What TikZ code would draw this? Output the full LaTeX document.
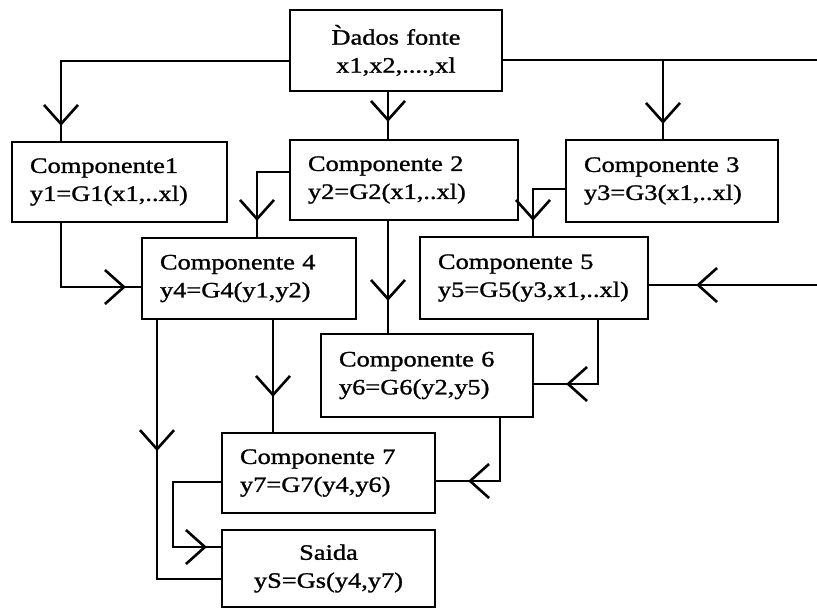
\documentclass[tikz,border=0pt]{standalone}
\usepackage{fontspec}
\setmainfont{Liberation Serif}[FakeStretch=1.2, FakeBold=1.2]
\usetikzlibrary{arrows.meta,decorations.markings}

\tikzset{
  box/.style={draw, line width=2.2pt, inner xsep=18pt, inner ysep=0pt,
    align=left, font=\fontsize{22}{28}\selectfont},
  conn/.style={line width=2.2pt},
  midtip/.style={postaction={decorate}, decoration={markings,
    mark=at position #1 with {\arrow[line width=2.6pt]{Straight Barb[length=19pt,width=34pt]}}}}
}

\begin{document}
\begin{tikzpicture}[x=1pt, y=-1pt]
\useasboundingbox (0,0) rectangle (817,610);

% component boxes
\node[box, align=center, text width=176pt, minimum height=81pt] (dados) at (396,50.5)
  {D̀ados fonte\\x1,x2,....,xl};
\node[box, text width=179pt, minimum height=80pt] (c1) at (119.5,182)
  {Componente1\\y1=G1(x1,..xl)};
\node[box, text width=192pt, minimum height=80pt] (c2) at (404,180)
  {Componente 2\\y2=G2(x1,..xl)};
\node[box, text width=176pt, minimum height=82pt] (c3) at (672,181)
  {Componente 3\\y3=G3(x1,..xl)};
\node[box, text width=178pt, minimum height=81pt] (c4) at (249,278.5)
  {Componente 4\\y4=G4(y1,y2)};
\node[box, text width=192pt, minimum height=82pt] (c5) at (534,278)
  {Componente 5\\y5=G5(y3,x1,..xl)};
\node[box, text width=176pt, minimum height=83pt] (c6) at (427,375.5)
  {Componente 6\\y6=G6(y2,y5)};
\node[box, text width=177pt, minimum height=80pt] (c7) at (328.5,473)
  {Componente 7\\y7=G7(y4,y6)};
\node[box, align=center, text width=177pt, minimum height=77pt] (saida) at (328.5,568.5)
  {Saida\\yS=Gs(y4,y7)};

% junction on the source bus
\coordinate (j3) at (663,60);

% connectors
\draw[conn, midtip=-15pt] (dados.west |- 0,61) -- (61,61) -- (61,0 |- c1.north);
\draw[conn, midtip=-17pt] (388,0 |- dados.south) -- (388,0 |- c2.north);
\draw[conn, midtip=-47pt] (dados.east |- 0,60) -- (821,60) -- (821,285) -- (c5.east |- 0,285);
\draw[conn, midtip=-15pt] (j3) -- (663,0 |- c3.north);
\draw[conn, midtip=-15pt] (61,0 |- c1.south) -- (61,287) -- (c4.west |- 0,287);
\draw[conn, midtip=-16pt] (c2.west |- 0,172) -- (257,172) -- (257,0 |- c4.north);
\draw[conn, midtip=-32pt] (388,0 |- c2.south) -- (388,0 |- c6.north);
\draw[conn, midtip=-15pt] (c3.west |- 0,189) -- (533,189) -- (533,0 |- c5.north);
\draw[conn, midtip=-32pt] (598,0 |- c5.south) -- (598,384) -- (c6.east |- 0,384);
\draw[conn, midtip=-32pt] (500,0 |- c6.south) -- (500,481) -- (c7.east |- 0,481);
\draw[conn, midtip=-35pt] (273,0 |- c4.south) -- (273,0 |- c7.north);
\draw[conn, midtip=131pt] (157,0 |- c4.south) -- (157,579) -- (saida.west |- 0,579);
\draw[conn, midtip=-14pt] (c7.west |- 0,482) -- (173,482) -- (173,547) -- (saida.west |- 0,547);
\end{tikzpicture}
\end{document}
